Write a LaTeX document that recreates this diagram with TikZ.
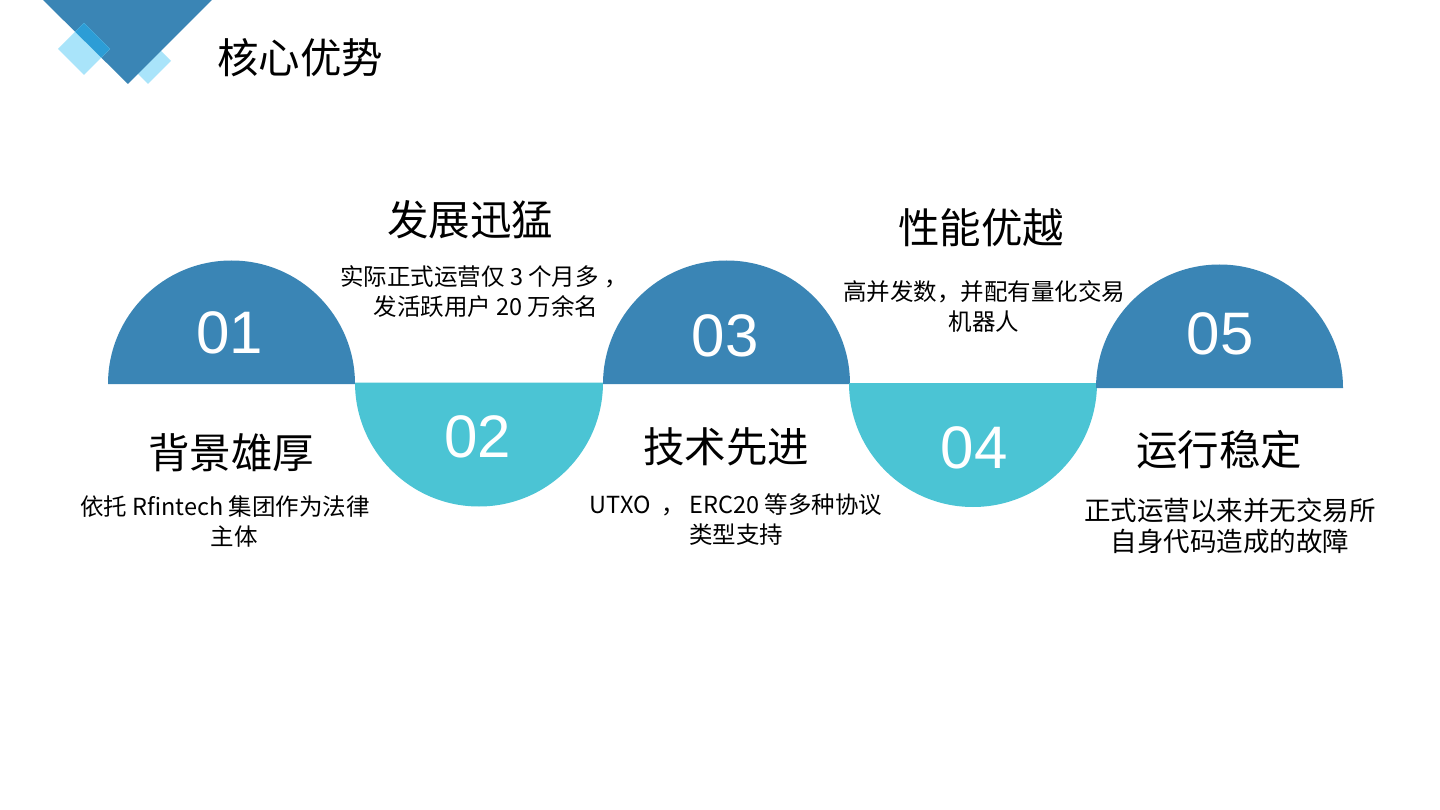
\documentclass[tikz,border=0pt]{standalone}
\usepackage{fontspec}
\newfontfamily\cjk{Noto Sans CJK SC}
\newfontfamily\numfont{Liberation Sans}
\definecolor{dblue}{HTML}{3A85B5}
\definecolor{cyanc}{HTML}{4BC4D4}
\definecolor{lblue}{HTML}{A9E4FA}
\definecolor{mblue}{HTML}{2C9DD6}
\begin{document}
\begin{tikzpicture}[x=1pt,y=-1pt,
  numtxt/.style={text=white,font=\numfont\fontsize{60}{60}\selectfont,inner sep=0pt},
  headtxt/.style={text=black,font=\cjk\fontsize{41.5}{48}\selectfont,inner sep=0pt},
  bodytxt/.style={text=black,font=\cjk\fontsize{23.5}{30}\selectfont,inner sep=0pt,align=center},
  bodybig/.style={text=black,font=\cjk\fontsize{26.5}{31}\selectfont,inner sep=0pt,align=center}]
\useasboundingbox (0,0) rectangle (1440,810);
\fill[white] (0,0) rectangle (1440,810);
% decoration
\fill[lblue] (148,38) -- (171,61) -- (148,84) -- (125,61) -- cycle;
\fill[dblue] (43,0) -- (212,0) -- (128,84) -- cycle;
\fill[lblue] (84,23) -- (110,49) -- (84,75) -- (58,49) -- cycle;
\begin{scope}
  \clip (43,0) -- (212,0) -- (128,84) -- cycle;
  \fill[mblue] (84,23) -- (110,49) -- (84,75) -- (58,49) -- cycle;
\end{scope}
\node[headtxt,anchor=west] (title) at (217,58) {核心优势};
% semicircles
\fill[dblue] (108,384) arc[start angle=180,end angle=360,radius=123.5] -- cycle;
\fill[cyanc] (355,382.5) arc[start angle=180,end angle=0,radius=124] -- cycle;
\fill[dblue] (603,384) arc[start angle=180,end angle=360,radius=123.5] -- cycle;
\fill[cyanc] (849,383) arc[start angle=180,end angle=0,radius=124] -- cycle;
\fill[dblue] (1096,388) arc[start angle=180,end angle=360,radius=123.5] -- cycle;
% numbers
\node[numtxt] (n1) at (230,333) {01};
\node[numtxt] (n2) at (478,437) {02};
\node[numtxt] (n3) at (725,336) {03};
\node[numtxt] (n4) at (974,448) {04};
\node[numtxt] (n5) at (1220,334) {05};
% headings
\node[headtxt] (h2) at (470,220) {发展迅猛};
\node[headtxt] (h4) at (981,228) {性能优越};
\node[headtxt] (h1) at (231,453) {背景雄厚};
\node[headtxt] (h3) at (726,447) {技术先进};
\node[headtxt] (h5) at (1219,450) {运行稳定};
% bodies
\node[bodytxt] (b2) at (484,292) {实际正式运营仅 3 个月多 ，\\\hspace*{4pt}发活跃用户 20 万余名};
\node[bodytxt] (b4) at (984,306) {高并发数，并配有量化交易\\机器人};
\node[bodytxt] (b1) at (225,522) {依托 Rfintech 集团作为法律\\\hspace*{18pt}主体};
\node[bodytxt] (b3) at (736,520) {UTXO \ ， ERC20 等多种协议\\类型支持};
\node[bodybig] (b5) at (1230,526) {正式运营以来并无交易所\\自身代码造成的故障};
\end{tikzpicture}
\end{document}
